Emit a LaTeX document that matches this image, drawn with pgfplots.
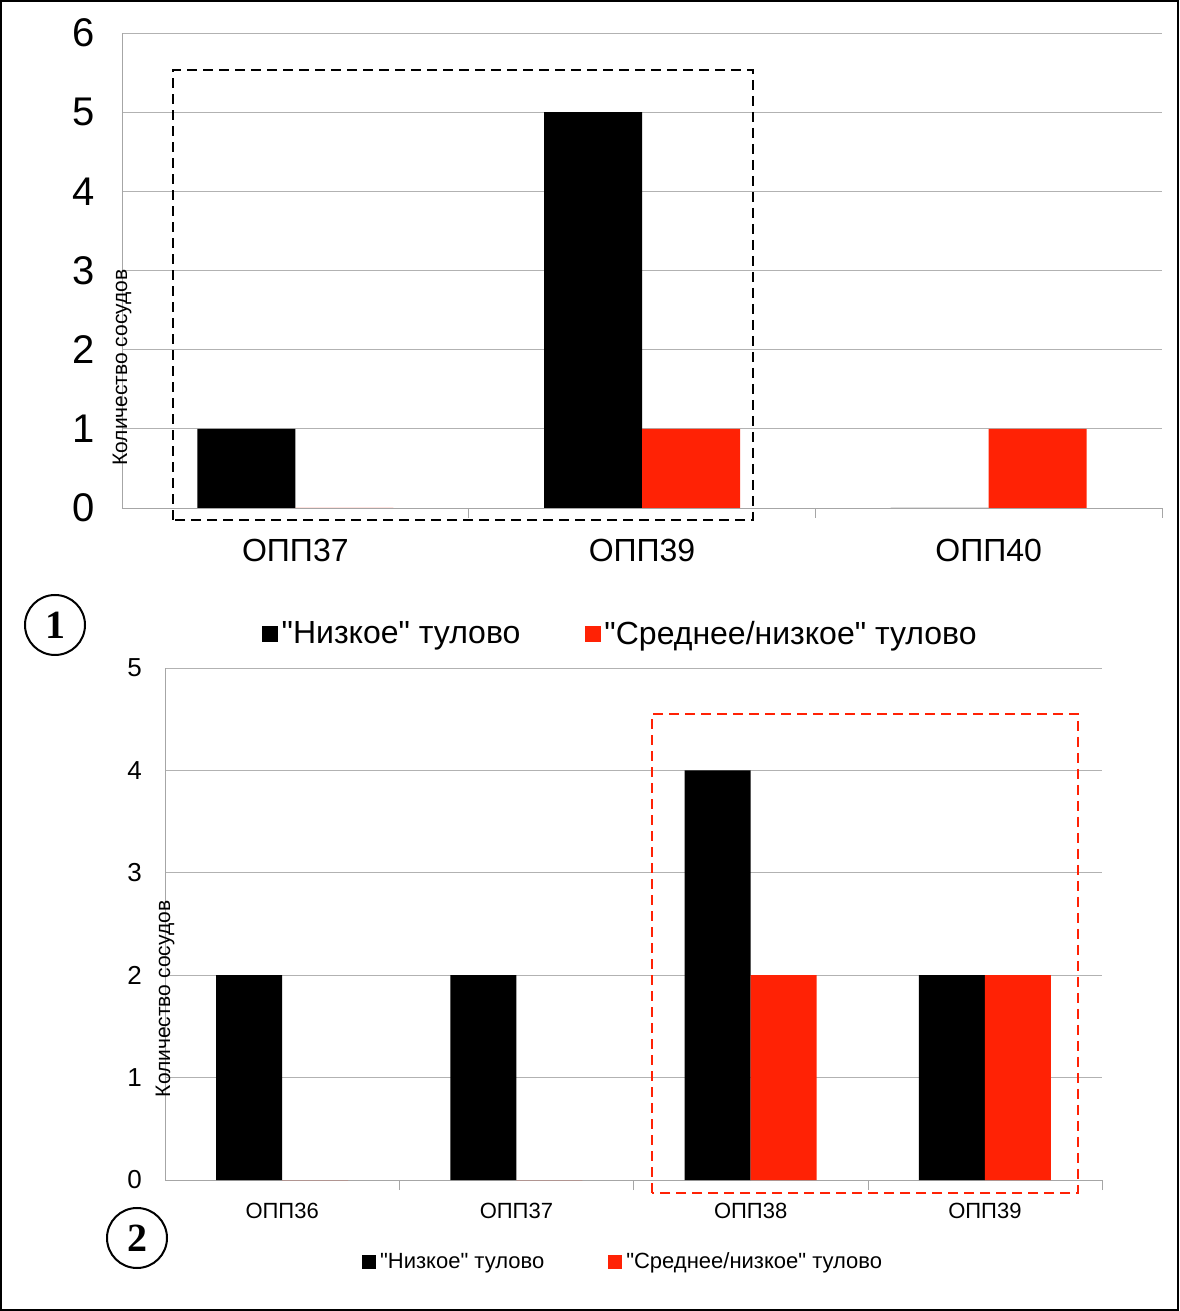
\documentclass[border=0pt]{standalone}
\usepackage{pgfplots}
\pgfplotsset{compat=1.18}
\usepackage{fontspec}
\setmainfont{Liberation Sans}
\newfontfamily\serifbold{Liberation Serif}
\definecolor{myred}{HTML}{FF2205}
\newcommand{\q}{\textquotedbl}
\begin{document}
\begin{tikzpicture}
\path[use as bounding box] (0pt,0pt) rectangle (589.5pt,655.5pt);
\draw[line width=1.2pt] (0.6pt,0.6pt) rectangle (588.9pt,654.9pt);
\pgfplotsset{myax/.style={scale only axis, anchor=south west, ybar=0pt, ymin=0,
  axis x line*=bottom, axis y line*=left, axis line style={gray!70},
  ymajorgrids, grid style={gray!60}, xtick=data, major tick length=0pt,
  extra x tick style={grid=none, major tick length=5pt, tick style={gray!70}},
  /pgf/number format/assume math mode=true,
  legend style={draw=none, legend columns=2, /tikz/every even column/.append style={column sep=30pt}},
  legend image code/.code={\fill (0pt,-4pt) rectangle (8pt,4pt);},
}}
\begin{axis}[myax, at={(61pt,401.5pt)}, width=520pt, height=237.5pt,
  xmin=-0.5, xmax=2.5, ymax=6, bar width=49pt,
  xticklabels={ОПП37,ОПП39,ОПП40},
  extra x ticks={0.5,1.5,2.5}, extra x tick labels={},
  ytick={0,...,6}, yticklabel style={font=\fontsize{20}{22}\selectfont, xshift=-10pt},
  xticklabel style={font=\fontsize{16}{18}\selectfont, yshift=-12pt},
  ylabel={Количество сосудов}, ylabel style={at={(rel axis cs:0,0.5)}, xshift=-48.5pt, anchor=center, font=\fontsize{10.5}{12}\selectfont},
  legend style={at={(0.48,0)}, anchor=center, yshift=-63pt, font=\fontsize{16}{18}\selectfont}]
\addplot[fill=black, draw=none] coordinates {(0,1) (1,5) (2,0)};
\addplot[fill=myred, draw=none] coordinates {(0,0) (1,1) (2,1)};
\legend{\q Низкое\q\ тулово,\q Среднее/низкое\q\ тулово}
\end{axis}
\begin{axis}[myax, at={(82.5pt,65.5pt)}, width=468.5pt, height=256pt,
  xmin=-0.5, xmax=3.5, ymax=5, bar width=33pt,
  xticklabels={ОПП36,ОПП37,ОПП38,ОПП39},
  extra x ticks={0.5,1.5,2.5,3.5}, extra x tick labels={},
  ytick={0,...,5}, yticklabel style={font=\fontsize{13}{15}\selectfont, xshift=-8pt},
  xticklabel style={font=\fontsize{11}{13}\selectfont, yshift=-8pt},
  ylabel={Количество сосудов}, ylabel style={at={(rel axis cs:0,0.5)}, xshift=-37.5pt, anchor=center, font=\fontsize{10.5}{12}\selectfont},
  legend style={at={(0.49,0)}, anchor=center, yshift=-41pt, font=\fontsize{11}{13}\selectfont},
  legend image code/.code={\fill (0pt,-3.5pt) rectangle (7pt,3.5pt);}]
\addplot[fill=black, draw=none] coordinates {(0,2) (1,2) (2,4) (3,2)};
\addplot[fill=myred, draw=none] coordinates {(0,0) (1,0) (2,2) (3,2)};
\legend{\q Низкое\q\ тулово,\q Среднее/низкое\q\ тулово}
\end{axis}
\draw[dashed, line width=0.9pt, dash pattern=on 5pt off 3pt] (86.5pt,395.5pt) rectangle (376.5pt,620.5pt);
\draw[dashed, myred, line width=0.9pt, dash pattern=on 5pt off 3pt] (326pt,59pt) rectangle (539pt,298.5pt);
\draw[line width=1pt] (27.5pt,343pt) circle (15pt) node {\serifbold\bfseries\fontsize{20}{22}\selectfont 1};
\draw[line width=1pt] (68.5pt,36.5pt) circle (15pt) node {\serifbold\bfseries\fontsize{20}{22}\selectfont 2};
\end{tikzpicture}
\end{document}
